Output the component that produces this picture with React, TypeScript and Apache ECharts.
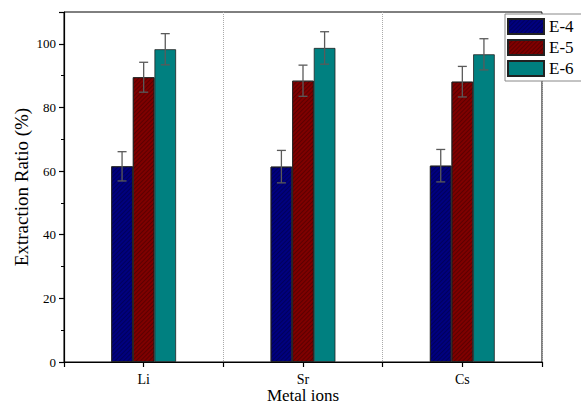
import React, { useEffect, useRef } from "react";
import * as echarts from "echarts";

const categories = ["Li", "Sr", "Cs"];
const seriesNames = ["E-4", "E-5", "E-6"];
const e4Values = [61.5, 61.4, 61.7];
const e5Values = [89.5, 88.4, 88.1];
const e6Values = [98.3, 98.7, 96.7];
const e4Errors = [4.6, 5.1, 5.1];
const e5Errors = [4.7, 4.9, 4.8];
const e6Errors = [4.9, 5.1, 4.9];
const colors = ["#00007f", "#7f0000", "#008080"];

const FONT = "'Liberation Serif', 'Times New Roman', serif";
const BAR_W = 21.6;

export default function App() {
  const ref = useRef<HTMLDivElement>(null);
  useEffect(() => {
    if (!ref.current) return;
    const chart = echarts.init(ref.current, null, { renderer: "svg" });
    const values = [e4Values, e5Values, e6Values];
    const errors = [e4Errors, e5Errors, e6Errors];
    const hatch = (i: number) =>
      i < 2
        ? {
            symbol: "rect",
            symbolSize: 1,
            color: "rgba(0,0,0,0.28)",
            dashArrayX: [1, 0],
            dashArrayY: [1, 2],
            rotation: -Math.PI / 4,
          }
        : undefined;
    const barSeries = seriesNames.map((name, i) => ({
      name,
      type: "bar",
      data: values[i],
      barWidth: BAR_W,
      barGap: "0%",
      itemStyle: { color: colors[i], borderColor: "#222", borderWidth: 0.8, decal: hatch(i) },
    }));
    const errSeries = seriesNames.map((name, i) => ({
      type: "custom",
      name: name + "-err",
      data: categories.map((_, k) => [k, values[i][k], errors[i][k]]),
      z: 10,
      silent: true,
      renderItem: (params: any, api: any) => {
        const k = api.value(0);
        const v = api.value(1);
        const e = api.value(2);
        const c = api.coord([k, v]);
        const x = c[0] + (i - 1) * BAR_W;
        const top = api.coord([k, v + e])[1];
        const bot = api.coord([k, v - e])[1];
        const hw = 4.5;
        const st = { stroke: "#5a5a5a", lineWidth: 1.3 };
        return {
          type: "group",
          children: [
            { type: "line", shape: { x1: x, y1: top, x2: x, y2: bot }, style: st },
            { type: "line", shape: { x1: x - hw, y1: top, x2: x + hw, y2: top }, style: st },
            { type: "line", shape: { x1: x - hw, y1: bot, x2: x + hw, y2: bot }, style: st },
          ],
        };
      },
    }));
    chart.setOption({
      animation: false,
      backgroundColor: "#fff",
      grid: {
        left: 64,
        right: 39,
        top: 12,
        bottom: 43,
        show: true,
        borderColor: "#000",
        borderWidth: 1,
        outerBoundsMode: "none",
        containLabel: false,
      },
      legend: {
        data: seriesNames,
        orient: "vertical",
        left: 505,
        top: 14,
        padding: [4, 45, 4, 2],
        itemWidth: 36,
        itemHeight: 15,
        itemGap: 4,
        borderColor: "#888",
        borderWidth: 1,
        backgroundColor: "#fff",
        textStyle: { fontFamily: FONT, fontSize: 17, color: "#000" },
        icon: "rect",
      },
      xAxis: [
        {
          type: "category",
          data: categories,
          name: "Metal ions",
          nameLocation: "middle",
          nameGap: 25,
          nameMoveOverlap: false,
          nameTextStyle: { fontFamily: FONT, fontSize: 17, color: "#000" },
          axisLine: { lineStyle: { color: "#000", width: 1.2 } },
          axisTick: { show: true, length: 5, lineStyle: { color: "#000", width: 1.2 } },
          axisLabel: { fontFamily: FONT, fontSize: 14, color: "#000", margin: 10 },
          splitLine: { show: true, lineStyle: { color: "#aaa", type: "dotted", width: 1 } },
        },
        {
          type: "category",
          data: categories,
          position: "bottom",
          axisLine: { show: false },
          axisTick: { show: true, alignWithLabel: true, length: 5, lineStyle: { color: "#000", width: 1.2 } },
          axisLabel: { show: false },
          splitLine: { show: false },
        },
      ],
      yAxis: {
        type: "value",
        min: 0,
        max: 110,
        interval: 20,
        name: "Extraction Ratio (%)",
        nameLocation: "middle",
        nameGap: 33,
        nameMoveOverlap: false,
        nameTextStyle: { fontFamily: FONT, fontSize: 19, color: "#000" },
        axisLine: { show: true, lineStyle: { color: "#000", width: 1.2 } },
        axisTick: { show: true, length: 5, lineStyle: { color: "#000", width: 1.2 } },
        minorTick: { show: true, splitNumber: 2, length: 3, lineStyle: { color: "#000", width: 1 } },
        axisLabel: {
          fontFamily: FONT,
          fontSize: 13,
          color: "#000",
          margin: 8,
          formatter: (v: number) => (v > 100 ? "" : String(v)),
        },
        splitLine: { show: false },
      },
      series: [...barSeries, ...errSeries],
    });
    return () => chart.dispose();
  }, []);
  return (
    <div
      ref={ref}
      style={{ width: 581, height: 405, position: "absolute", left: 0, top: 0 }}
    />
  );
}
